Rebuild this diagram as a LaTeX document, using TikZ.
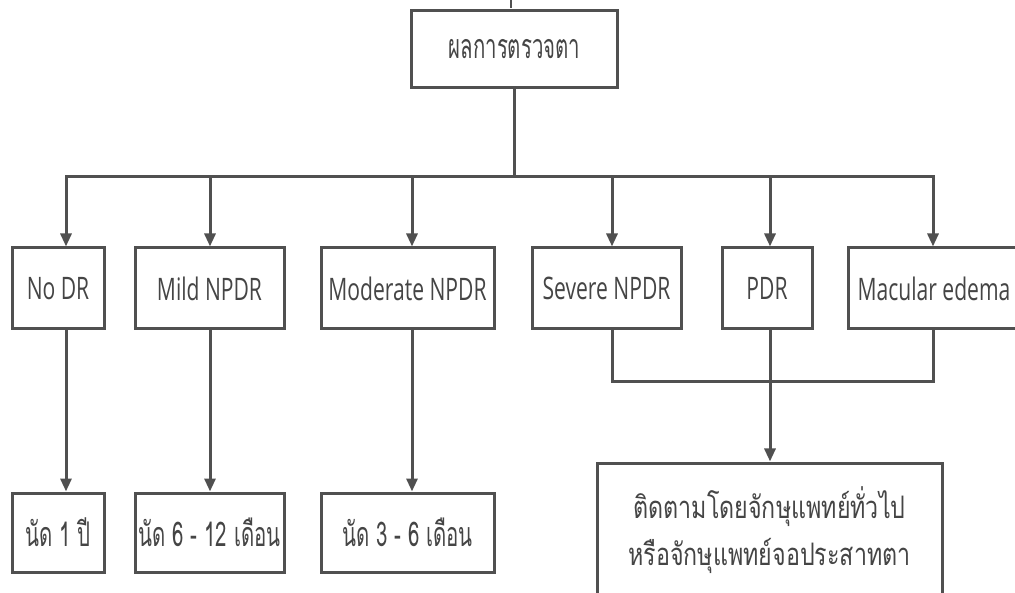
\documentclass[tikz,border=0pt]{standalone}
\usepackage{fontspec}
\setmainfont[FakeStretch=0.68]{Open Sans}
\newfontfamily\thai[Script=Thai,FakeStretch=0.6]{Loma}
\newfontfamily\thaiw[Script=Thai,FakeStretch=0.75]{Loma}
\usetikzlibrary{arrows.meta}
\definecolor{ln}{HTML}{505050}
\definecolor{tx}{HTML}{454545}
\tikzset{
  box/.style={draw=ln,line width=3pt,fill=white,inner sep=0pt,text=tx,font=\fontsize{31}{36}\selectfont,minimum height=81pt},
  tbox/.style={box,font=\thai\fontsize{34}{47}\selectfont},
  conn/.style={draw=ln,line width=3pt},
  arr/.style={conn,-{Triangle[length=13pt,width=11pt]}}
}
\begin{document}
\begin{tikzpicture}[x=1pt,y=-1pt]
\useasboundingbox (0,0) rectangle (1015,593);
\clip (0,0) rectangle (1015,593);
\node[tbox,minimum width=206pt,minimum height=77pt] (top) at (514.5,49.5) {ผลการตรวจตา};
\node[box,minimum width=92pt] (nodr) at (58,288.5) {No DR};
\node[box,minimum width=149pt] (mild) at (209.5,288.5) {Mild NPDR};
\node[box,minimum width=173pt] (mod) at (407.5,288.5) {Moderate NPDR};
\node[box,minimum width=149pt] (sev) at (606.5,288.5) {Severe NPDR};
\node[box,minimum width=90pt] (pdr) at (767,288.5) {PDR};
\node[box,minimum width=172pt] (mac) at (934,288.5) {Macular edema};
\node[tbox,minimum width=92pt,minimum height=79pt] (r1) at (58,532.5) {นัด 1 ปี};
\node[tbox,minimum width=149pt,minimum height=79pt] (r2) at (209.5,532.5) {นัด 6 - 12 เดือน};
\node[tbox,minimum width=173pt,minimum height=79pt] (r3) at (407.5,532.5) {นัด 3 - 6 เดือน};
\node[box,font=\thaiw\fontsize{31}{47}\selectfont,minimum width=345pt,minimum height=134pt,align=center] (big) at (769.5,530) {ติดตามโดยจักษุแพทย์ทั่วไป\\หรือจักษุแพทย์จอประสาทตา};
\coordinate (tick) at (511,0);
\coordinate (bus) at (514,177);
\coordinate (a1) at (66,177);
\coordinate (a2) at (210,177);
\coordinate (a3) at (412,177);
\coordinate (a4) at (612,177);
\coordinate (a5) at (770,177);
\coordinate (a6) at (933,177);
\coordinate (j) at (770,382);
\draw[conn,line width=1.5pt] (tick) -- (tick |- 0,8);
\draw[conn] (top.south -| bus) -- (bus);
\draw[conn,line cap=rect] (a1) -- (a6);
\foreach \a/\n in {a1/nodr,a2/mild,a3/mod,a4/sev,a5/pdr,a6/mac}
  \draw[arr] (\a) -- (\a |- \n.north);
\foreach \a/\n/\m in {a1/nodr/r1,a2/mild/r2,a3/mod/r3}
  \draw[arr] (\a |- \n.south) -- (\a |- \m.north);
\draw[conn] (a4 |- sev.south) -- (a4 |- j) -- (a6 |- j) -- (a6 |- mac.south);
\draw[arr] (a5 |- pdr.south) -- (a5 |- big.north);
\end{tikzpicture}
\end{document}
